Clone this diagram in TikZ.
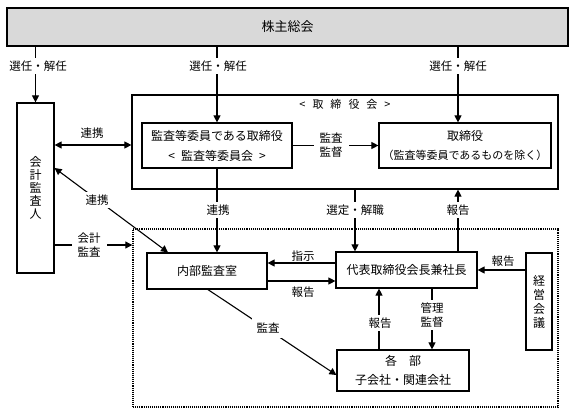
\documentclass[tikz,border=0pt]{standalone}
\usepackage{fontspec}
\setmainfont{Noto Sans CJK JP}
\usetikzlibrary{arrows.meta}
\begin{document}
\begin{tikzpicture}[x=1pt,y=-1pt,
  box/.style={draw, line width=1.2pt, inner sep=0pt, align=center, font=\fontsize{12}{14}\selectfont},
  arr/.style={line width=1.1pt, -{Triangle[length=7pt,width=7pt]}},
  dbl/.style={line width=1.1pt, {Triangle[length=7pt,width=7pt]}-{Triangle[length=7pt,width=7pt]}},
  lbl/.style={fill=white, inner sep=3pt, align=center, font=\fontsize{11.5}{14}\selectfont},
  plain/.style={inner sep=1pt, align=center, font=\fontsize{11.5}{14}\selectfont}]
\useasboundingbox (0,0) rectangle (575,414);
% helper coordinates
\coordinate (x208) at (208,0);
\coordinate (x355) at (355,0);
\coordinate (x379) at (379,0);
\coordinate (x432) at (432,0);
\coordinate (x458) at (458,0);
\coordinate (x168) at (168,0);
\coordinate (y145) at (0,145);
\coordinate (y168) at (0,168);
\coordinate (y245) at (0,245);
\coordinate (y263) at (0,263);
\coordinate (y270) at (0,270);
\coordinate (y281) at (0,281);
\coordinate (y375) at (0,375);
% boxes
\node[box, fill=gray!30, minimum width=561pt, minimum height=38pt, font=\fontsize{13}{15}\selectfont] (gm) at (287.5,27) {株主総会};
\node[box, minimum width=37pt, minimum height=170pt, font=\fontsize{12}{13}\selectfont] (aud) at (35.5,188) {会\\計\\監\\査\\人};
\node[box, minimum width=426pt, minimum height=94pt] (board) at (345,142) {};
\node[plain, font=\fontsize{11}{13}\selectfont] (boardt) at (345,104) {<\hspace{7pt}取\hspace{7pt}締\hspace{7pt}役\hspace{7pt}会\hspace{7pt}>};
\node[box, minimum width=150pt, minimum height=45pt, font=\fontsize{12}{20}\selectfont] (ac) at (217,145.5) {監査等委員である取締役\\<\hspace{6pt}監査等委員会\hspace{6pt}>};
\node[box, minimum width=172pt, minimum height=45pt] (dir) at (465,145.5) {取締役\\[5pt]{\fontsize{11}{13}\selectfont （監査等委員であるものを除く）}};
\node[draw, line width=1.4pt, dash pattern=on 1.1pt off 1pt, minimum width=425pt, minimum height=178pt, inner sep=0pt] (dot) at (345.5,318) {};
\node[box, minimum width=120pt, minimum height=36pt] (ia) at (207,271) {内部監査室};
\node[box, minimum width=141pt, minimum height=36pt] (pres) at (406.5,270) {代表取締役会長兼社長};
\node[box, minimum width=26pt, minimum height=97pt, font=\fontsize{12}{14}\selectfont] (mm) at (539,301.5) {経\\営\\会\\議};
\node[box, minimum width=132pt, minimum height=41pt, font=\fontsize{12}{19}\selectfont] (dept) at (403,370.5) {各　部\\子会社・関連会社};
% connectors
\draw[arr] (gm.south -| aud.north) -- (aud.north);
\draw[arr] (gm.south -| ac.north) -- (ac.north);
\draw[arr] (gm.south -| x458) -- (dir.north -| x458);
\draw[dbl] (aud.east |- y145) -- (board.west |- y145);
\draw[arr] (ac.east) -- (dir.west);
\draw[dbl] (aud.east |- y168) -- (ia.north -| x168);
\draw[arr] (aud.east |- y245) -- (dot.west |- y245);
\draw[arr] (ac.south) -- (ac.south |- ia.north);
\draw[arr] (board.south -| x355) -- (pres.north -| x355);
\draw[arr] (pres.north -| x458) -- (board.south -| x458);
\draw[arr] (pres.west |- y263) -- (ia.east |- y263);
\draw[arr] (ia.east |- y281) -- (pres.west |- y281);
\draw[arr] (mm.west |- y270) -- (pres.east |- y270);
\draw[arr] (dept.north -| x379) -- (pres.south -| x379);
\draw[arr] (pres.south -| x432) -- (dept.north -| x432);
\draw[arr] (ia.south -| x208) -- (dept.west |- y375);
% labels
\node[lbl] (l1) at (38,66) {選任・解任};
\node[lbl] (l2) at (218,66) {選任・解任};
\node[lbl] (l3) at (458,66) {選任・解任};
\node[plain] (l4) at (92,133) {連携};
\node[lbl, inner xsep=6pt] (l5) at (331,145) {監査\\監督};
\node[lbl] (l6) at (97,200) {連携};
\node[lbl, inner xsep=6pt] (l7) at (89,245) {会計\\監査};
\node[lbl] (l8) at (218,210) {連携};
\node[lbl] (l9) at (355,210) {選定・解職};
\node[lbl] (l10) at (458,210) {報告};
\node[plain] (l11) at (303,256) {指示};
\node[plain] (l12) at (303,292) {報告};
\node[plain] (l13) at (503,261) {報告};
\node[lbl] (l14) at (380,323) {報告};
\node[lbl] (l15) at (432,315) {管理\\監督};
\node[lbl, inner sep=5pt] (l16) at (268,328) {監査};
\end{tikzpicture}
\end{document}
